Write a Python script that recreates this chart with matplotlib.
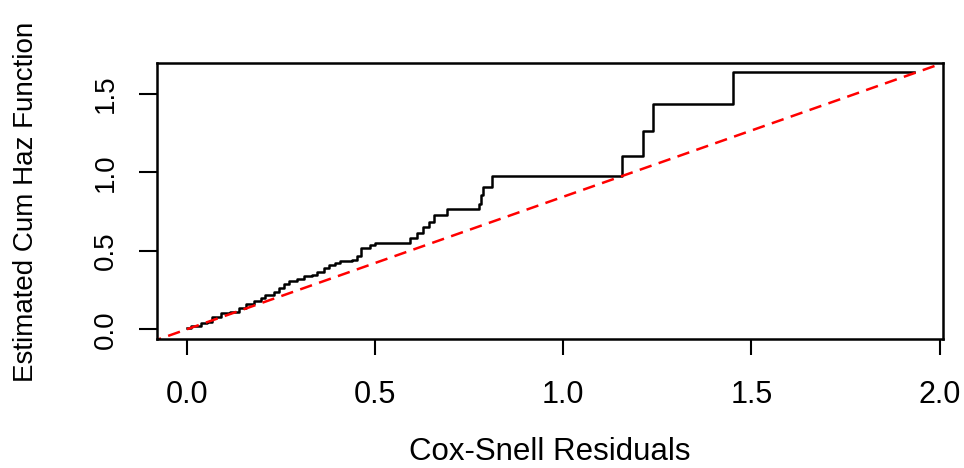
import numpy as np
import matplotlib.pyplot as plt

plt.rcParams['font.family'] = ['Liberation Sans', 'DejaVu Sans']

# Nelson-Aalen cumulative hazard of the Cox-Snell residuals (step function)
resid = [0.000, 0.010, 0.037, 0.054, 0.068, 0.090, 0.116, 0.138, 0.156, 0.178,
         0.196, 0.209, 0.231, 0.245, 0.258, 0.271, 0.293, 0.311, 0.333, 0.346,
         0.364, 0.377, 0.395, 0.408, 0.439, 0.453, 0.464, 0.488, 0.501, 0.594,
         0.612, 0.628, 0.643, 0.656, 0.690, 0.777, 0.781, 0.786, 0.811, 1.155,
         1.211, 1.239, 1.451, 1.933]
cumhaz = [0.006, 0.024, 0.038, 0.048, 0.080, 0.106, 0.112, 0.137, 0.161, 0.182,
          0.197, 0.219, 0.240, 0.261, 0.289, 0.310, 0.319, 0.340, 0.346, 0.367,
          0.389, 0.410, 0.420, 0.435, 0.441, 0.470, 0.520, 0.535, 0.551, 0.580,
          0.616, 0.650, 0.686, 0.727, 0.767, 0.802, 0.855, 0.908, 0.975, 1.105,
          1.262, 1.434, 1.638, 1.638]

# reference line
ref_x = [-0.2, 2.2]
ref_slope = 0.845
ref_y = [ref_slope * v for v in ref_x]

xticks = [0.0, 0.5, 1.0, 1.5, 2.0]
yticks = [0.0, 0.5, 1.0, 1.5]

fig = plt.figure(figsize=(9.64, 4.68), dpi=100)
ax = fig.add_axes([156.7/964, 1 - 339.3/468, (943.3 - 156.7)/964, (339.3 - 63.3)/468])

ax.step(resid, cumhaz, where='post', color='black', lw=1.8)
ax.plot(ref_x, ref_y, color='red', lw=1.8, dashes=(5, 3))

ax.set_xlim(-0.080, 2.010)
ax.set_ylim(-0.0637, 1.696)
ax.set_xticks(xticks)
ax.set_xticklabels([f"{v:.1f}" for v in xticks])
ax.set_yticks(yticks)
ax.set_yticklabels([f"{v:.1f}" for v in yticks], rotation=90, va='center')

for s in ax.spines.values():
    s.set_linewidth(1.8)
ax.tick_params(axis='x', length=11.5, width=1.5, pad=18, labelsize=22)
ax.tick_params(axis='y', length=13.3, width=1.5, pad=14, labelsize=20)

fig.text(550/964, (468 - 460)/468, "Cox-Snell Residuals", fontsize=22.5,
         ha='center', va='baseline')
fig.text(33/964, 1 - 202/468, "Estimated Cum Haz Function", fontsize=20,
         rotation=90, ha='center', va='baseline', rotation_mode='anchor')

fig.savefig("out.png", dpi=100)
